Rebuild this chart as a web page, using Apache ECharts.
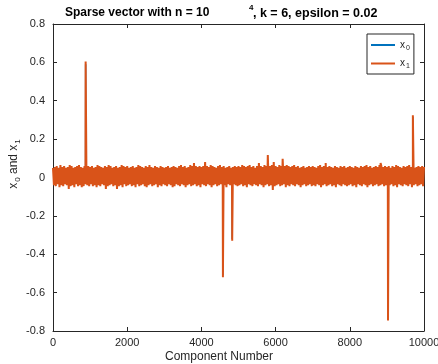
<!DOCTYPE html>
<html><head><meta charset="utf-8">
<script src="https://cdn.jsdelivr.net/npm/echarts@6/dist/echarts.min.js"></script>
<style>html,body{margin:0;padding:0;background:#fff}#c{width:438px;height:364px}</style>
</head><body><div id="c"></div>
<script>
// ---- data ----
const xMin = 0, xMax = 10000, xStep = 2000;
const yMin = -0.8, yMax = 0.8, yStep = 0.2;

// x0: sparse vector (k = 6 nonzeros)
const x0SpikeIdx = [880, 4580, 4830, 5790, 9030, 9700];
const x0SpikeVal = [0.59, -0.51, -0.32, 0.05, -0.735, 0.315];

// x1: noisy recovery — upper envelope of the noise band read every 50 components (0..10000)
const x1UpperStep = 50;
const x1Upper = [
 0.05,0.055,0.06,0.05,0.065,0.055,0.06,0.05,0.055,0.065,0.06,0.05,0.055,0.06,0.065,0.055,0.05,0.06,0.055,0.06,
 0.055,0.06,0.05,0.055,0.065,0.06,0.055,0.05,0.06,0.055,0.065,0.06,0.05,0.055,0.06,0.05,0.055,0.065,0.06,0.055,
 0.06,0.05,0.055,0.06,0.05,0.055,0.065,0.06,0.055,0.05,0.06,0.055,0.065,0.055,0.05,0.06,0.055,0.05,0.06,0.055,
 0.05,0.055,0.06,0.05,0.055,0.06,0.055,0.05,0.06,0.065,0.055,0.06,0.05,0.055,0.065,0.06,0.075,0.06,0.055,0.06,
 0.055,0.06,0.08,0.06,0.055,0.065,0.06,0.055,0.05,0.06,0.065,0.055,0.06,0.05,0.055,0.06,0.05,0.055,0.06,0.055,
 0.06,0.055,0.065,0.06,0.055,0.06,0.065,0.055,0.06,0.05,0.06,0.075,0.06,0.055,0.065,0.06,0.055,0.06,0.065,0.08,
 0.06,0.055,0.065,0.06,0.055,0.06,0.065,0.06,0.055,0.06,0.065,0.055,0.06,0.05,0.055,0.06,0.05,0.055,0.06,0.055,
 0.06,0.055,0.05,0.06,0.065,0.055,0.06,0.05,0.055,0.06,0.055,0.05,0.06,0.055,0.05,0.06,0.055,0.06,0.05,0.055,
 0.06,0.055,0.05,0.06,0.055,0.05,0.06,0.055,0.06,0.065,0.055,0.06,0.05,0.055,0.06,0.055,0.065,0.06,0.055,0.06,
 0.055,0.06,0.05,0.06,0.055,0.065,0.06,0.055,0.05,0.06,0.055,0.06,0.065,0.055,0.06,0.05,0.055,0.06,0.055,0.06,
 0.055
];
// lower envelope, read halfway between the upper samples (25..9975)
const x1Lower = [
 -0.04,-0.045,-0.035,-0.05,-0.04,-0.045,-0.035,-0.04,-0.06,-0.045,-0.04,-0.05,-0.035,-0.045,-0.04,-0.05,-0.045,-0.035,-0.04,-0.045,
 -0.035,-0.045,-0.04,-0.05,-0.04,-0.045,-0.035,-0.04,-0.06,-0.045,-0.04,-0.035,-0.045,-0.04,-0.06,-0.045,-0.04,-0.05,-0.035,-0.045,
 -0.04,-0.035,-0.045,-0.04,-0.05,-0.035,-0.045,-0.04,-0.035,-0.045,-0.05,-0.04,-0.035,-0.045,-0.04,-0.035,-0.05,-0.04,-0.045,-0.035,
 -0.04,-0.045,-0.035,-0.04,-0.05,-0.045,-0.035,-0.04,-0.045,-0.035,-0.04,-0.05,-0.04,-0.035,-0.045,-0.04,-0.035,-0.045,-0.04,-0.05,
 -0.035,-0.04,-0.045,-0.035,-0.04,-0.05,-0.04,-0.035,-0.045,-0.04,-0.035,-0.045,-0.04,-0.05,-0.035,-0.04,-0.045,-0.035,-0.04,-0.045,
 -0.04,-0.035,-0.045,-0.04,-0.05,-0.035,-0.04,-0.045,-0.035,-0.04,-0.045,-0.035,-0.04,-0.05,-0.04,-0.035,-0.045,-0.04,-0.065,-0.045,
 -0.04,-0.035,-0.045,-0.04,-0.035,-0.05,-0.04,-0.045,-0.035,-0.04,-0.045,-0.035,-0.04,-0.05,-0.04,-0.035,-0.045,-0.04,-0.035,-0.045,
 -0.04,-0.045,-0.035,-0.04,-0.05,-0.04,-0.035,-0.045,-0.04,-0.035,-0.045,-0.04,-0.05,-0.035,-0.04,-0.045,-0.035,-0.04,-0.045,-0.04,
 -0.035,-0.045,-0.04,-0.05,-0.035,-0.04,-0.045,-0.035,-0.04,-0.05,-0.04,-0.035,-0.045,-0.04,-0.035,-0.045,-0.04,-0.035,-0.045,-0.04,
 -0.045,-0.04,-0.035,-0.045,-0.04,-0.05,-0.035,-0.04,-0.045,-0.035,-0.04,-0.045,-0.035,-0.05,-0.04,-0.035,-0.045,-0.04,-0.035,-0.045
];
// x1 spikes (single components standing out of the band)
const x1SpikeIdx = [880, 4580, 4830, 5790, 6190, 7350, 8830, 9030, 9700];
const x1SpikeVal = [0.605, -0.52, -0.33, 0.117, 0.097, 0.076, 0.076, -0.745, 0.325];

const seriesNames = ['x0', 'x1'];
const seriesColors = ['#0072BD', '#D95319'];

// ---- build series from the arrays ----
const x1Data = [];
x1Upper.forEach((v, i) => x1Data.push([i * x1UpperStep, v]));
x1Lower.forEach((v, i) => x1Data.push([i * x1UpperStep + x1UpperStep / 2, v]));
x1SpikeIdx.forEach((ix, i) => x1Data.push([ix, x1SpikeVal[i]]));
x1Data.sort((a, b) => a[0] - b[0]);

const x0Data = [[1, 0]];
x0SpikeIdx.forEach((ix, i) => { x0Data.push([ix - 1, 0], [ix, x0SpikeVal[i]], [ix + 1, 0]); });
x0Data.push([xMax, 0]);

const FONT = "'Liberation Sans', Arial, Helvetica, sans-serif";
const AX = '#262626';

const chart = echarts.init(document.getElementById('c'), null, {renderer: 'canvas'});
const axisCommon = {
  type: 'value',
  axisLine: {show: true, onZero: false, lineStyle: {color: AX, width: 1}},
  axisTick: {show: true, inside: true, length: 4, lineStyle: {color: AX, width: 1}},
  splitLine: {show: false}
};
chart.setOption({
  animation: false,
  backgroundColor: '#fff',
  grid: {left: 53, right: 14, top: 24, bottom: 33, containLabel: false, outerBoundsMode: 'none'},
  xAxis: [
    Object.assign({}, axisCommon, {min: xMin, max: xMax, interval: xStep, position: 'bottom',
      axisLabel: {color: AX, fontSize: 11, fontFamily: FONT, margin: 6, formatter: v => String(v)}}),
    Object.assign({}, axisCommon, {min: xMin, max: xMax, interval: xStep, position: 'top',
      axisLabel: {show: false}})
  ],
  yAxis: [
    Object.assign({}, axisCommon, {min: yMin, max: yMax, interval: yStep, position: 'left',
      axisLabel: {color: AX, fontSize: 11, fontFamily: FONT, margin: 8,
        formatter: v => (Math.abs(v) < 1e-9 ? '0' : String(Math.round(v * 10) / 10))}}),
    Object.assign({}, axisCommon, {min: yMin, max: yMax, interval: yStep, position: 'right',
      axisLabel: {show: false}})
  ],
  legend: {
    orient: 'vertical', left: 367, top: 34,
    backgroundColor: '#fff', borderColor: AX, borderWidth: 1,
    padding: [5, 4, 4, 4], itemGap: 6,
    itemWidth: 24, itemHeight: 2, icon: 'rect',
    data: seriesNames,
    formatter: n => 'x{sub|' + n.slice(1) + '}',
    textStyle: {color: AX, fontSize: 10, fontFamily: FONT, lineHeight: 12,
      rich: {sub: {fontSize: 7, fontFamily: FONT, color: AX, padding: [6, 0, 0, 1]}}}
  },
  graphic: [
    {type: 'text', left: 65, top: 7, style: {text: 'Sparse vector with n = 10', font: "bold 12px " + FONT, fill: '#000'}},
    {type: 'text', left: 249, top: 4, style: {text: '4', font: "bold 8px " + FONT, fill: '#000'}},
    {type: 'text', left: 253, top: 7, style: {text: ', k = 6, epsilon = 0.02', font: "bold 12.5px " + FONT, fill: '#000'}},
    {type: 'text', left: 'center', bottom: 1, style: {text: 'Component Number', font: "12px " + FONT, fill: AX}},
    {type: 'text', x: 14, y: 164, rotation: Math.PI / 2,
      style: {text: 'x{s|0} and x{s|1}', font: "12px " + FONT, fill: AX, textAlign: 'center', textVerticalAlign: 'middle',
        rich: {s: {fontSize: 8, fontFamily: FONT, fill: AX, padding: [8, 0, 0, 1]}}}}
  ],
  series: [
    {name: seriesNames[0], type: 'line', data: x0Data, showSymbol: false, symbol: 'none',
      lineStyle: {color: seriesColors[0], width: 1.5}, itemStyle: {color: seriesColors[0]},
      xAxisIndex: 0, yAxisIndex: 0, z: 2},
    {name: seriesNames[1], type: 'line', data: x1Data, showSymbol: false, symbol: 'none',
      lineStyle: {color: seriesColors[1], width: 2}, itemStyle: {color: seriesColors[1]},
      xAxisIndex: 0, yAxisIndex: 0, z: 3}
  ]
});
</script></body></html>
